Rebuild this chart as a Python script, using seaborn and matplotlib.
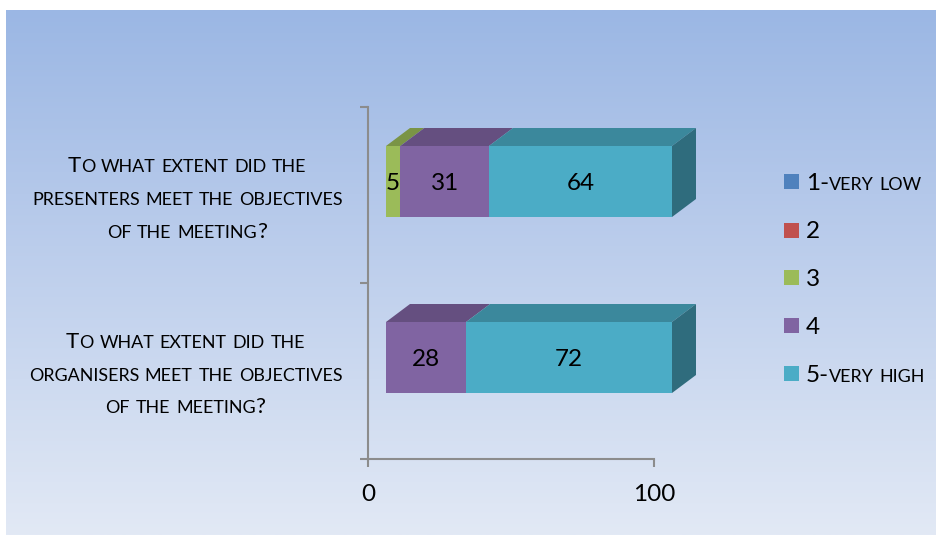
import numpy as np
import pandas as pd
import matplotlib
matplotlib.use("Agg")
import matplotlib.pyplot as plt
import seaborn as sns
from matplotlib.colors import to_rgb, LinearSegmentedColormap
from matplotlib.patches import Polygon, Rectangle
from matplotlib.transforms import Affine2D
from matplotlib.font_manager import FontProperties

categories = ["To what extent did the presenters meet the objectives of the meeting?",
              "To what extent did the organisers meet the objectives of the meeting?"]
series_names = ["1-very low", "2", "3", "4", "5-very high"]
s1 = [0, 0]
s2 = [0, 0]
s3 = [5, 0]
s4 = [31, 28]
s5 = [64, 72]
colors = ["#4F81BD", "#C0504D", "#9BBB59", "#8064A2", "#4BACC6"]
x_ticks = [0, 100]

label_lines = [
    ("To what extent did the", 187, 172), ("presenters meet the objectives", 187.5, 205),
    ("of the meeting?", 187, 238),
    ("To what extent did the", 185.5, 348), ("organisers meet the objectives", 185.5, 381),
    ("of the meeting?", 185.5, 413),
]

W, H = 937, 535
FONT = "Lato"
BIG = 16
NUM = 17.5
SMALL = 12.9

sns.set_theme(style="white")
plt.rcParams["font.family"] = [FONT, "DejaVu Sans"]

fig = plt.figure(figsize=(W / 100, H / 100), dpi=100, facecolor="white")

# background gradient panel
bg = fig.add_axes([6 / W, 0, 1 - 6 / W, 525 / H], zorder=0)
cmap = LinearSegmentedColormap.from_list("bg", [(0, "#9BB7E4"), (0.35, "#B4C8EA"), (1, "#E2E9F5")])
bg.imshow(np.linspace(0, 1, 256)[:, None], aspect="auto", cmap=cmap, vmin=0, vmax=1)
bg.axis("off")

# plot axes
L, R, T, B = 368, 654, 107, 459
ax = fig.add_axes([L / W, 1 - B / H, (R - L) / W, (B - T) / H], zorder=1)
ax.patch.set_alpha(0)

values = np.array([s1, s2, s3, s4, s5], dtype=float)
cum = values.cumsum(axis=0)
bar_w = 71 / 176
FRONT_DX, FRONT_DY = 18, 13.5          # px, shift of front face from the axis frame
DEPTH_DX, DEPTH_DY = 24, 18            # px, depth of the 3D block
offset = Affine2D().translate(FRONT_DX, FRONT_DY)

def shade(c, f):
    return tuple(v * f for v in to_rgb(c))

# stacked bars: cumulative layers, longest first
for i in range(len(series_names) - 1, -1, -1):
    df = pd.DataFrame({"cat": categories, "val": cum[i]})
    n0 = len(ax.patches)
    sns.barplot(data=df, x="val", y="cat", orient="h", color=colors[i], saturation=1,
                width=bar_w, ax=ax, zorder=3, linewidth=0, errorbar=None)
    for p in ax.patches[n0:]:
        p.set_clip_on(False)
        p.set_transform(ax.transData + offset)

ax.set_xlim(0, 100)
ax.set_ylim(1.5, -0.5)

# 3D faces derived from the same values
dx_d = DEPTH_DX / ((R - L) / 100)
dy_d = DEPTH_DY / ((B - T) / 2)
for j in range(len(categories)):
    top = j - bar_w / 2
    bot = j + bar_w / 2
    prev = 0.0
    for i in range(len(series_names)):
        if values[i, j] > 0:
            c = cum[i, j]
            ax.add_patch(Polygon([(prev, top), (c, top), (c + dx_d, top - dy_d), (prev + dx_d, top - dy_d)],
                                 closed=True, fc=shade(colors[i], 0.79), ec="none", zorder=2,
                                 clip_on=False, transform=ax.transData + offset))
            prev = c
    ax.add_patch(Polygon([(100, top), (100 + dx_d, top - dy_d), (100 + dx_d, bot - dy_d), (100, bot)],
                         closed=True, fc=shade(colors[4], 0.63), ec="none", zorder=2,
                         clip_on=False, transform=ax.transData + offset))
    # value labels
    prev = 0.0
    for i in range(len(series_names)):
        v = values[i, j]
        if v > 0:
            ax.annotate(f"{int(v)}", xy=(prev + v / 2, j), xytext=(FRONT_DX * 0.72, 11.5 * 0.72),
                        textcoords="offset points", ha="center", va="center",
                        fontsize=NUM, color="black", zorder=5, annotation_clip=False)
            prev += v

# axes styling
for s in ("top", "right"):
    ax.spines[s].set_visible(False)
for s in ("left", "bottom"):
    ax.spines[s].set_color("#8C8C8C")
    ax.spines[s].set_linewidth(1.5)
ax.set_xlabel("")
ax.set_ylabel("")
ax.set_xticks(x_ticks)
ax.set_yticks([-0.5, 0.5, 1.5])
ax.set_yticklabels([])
ax.tick_params(axis="both", which="major", length=5.8, width=1.5, color="#8C8C8C", left=True, bottom=True)
ax.tick_params(axis="x", labelsize=NUM, labelcolor="black", pad=12)

# small-caps text helper (real text pieces)
renderer = fig.canvas.get_renderer()

def advance(s, size):
    fp = FontProperties(family=FONT, size=size)
    a = renderer.get_text_width_height_descent(s + "|", fp, False)[0]
    b = renderer.get_text_width_height_descent("|", fp, False)[0]
    return a - b

def runs(s):
    out = []
    for ch in s:
        big = not ch.islower()
        if out and out[-1][1] == big:
            out[-1][0] += ch
        else:
            out.append([ch, big])
    res = []
    for t, b in out:
        if not b:
            size = SMALL
        elif t[0].isdigit():
            size = NUM
        else:
            size = BIG
        res.append((t.upper(), size))
    return res

def small_caps(s, x, y, center=False):
    rs = runs(s)
    widths = [advance(t, sz) for t, sz in rs]
    if center:
        x = x - sum(widths) / 2
    for (t, sz), w in zip(rs, widths):
        fig.text(x / W, 1 - y / H, t, fontsize=sz, color="black", ha="left", va="baseline", zorder=6)
        x += w

for text, cx, base in label_lines:
    small_caps(text, cx, base, center=True)

# legend
leg_y = [181.5, 230, 277.5, 325.5, 373.5]
for name, c, y in zip(series_names, colors, leg_y):
    fig.add_artist(Rectangle(((784) / W, 1 - (y + 7.5) / H), 15 / W, 15 / H, transform=fig.transFigure,
                             fc=c, ec="none", zorder=6))
    small_caps(name, 806, y + 8.5)

fig.savefig("out.png", dpi=100, facecolor="white")
